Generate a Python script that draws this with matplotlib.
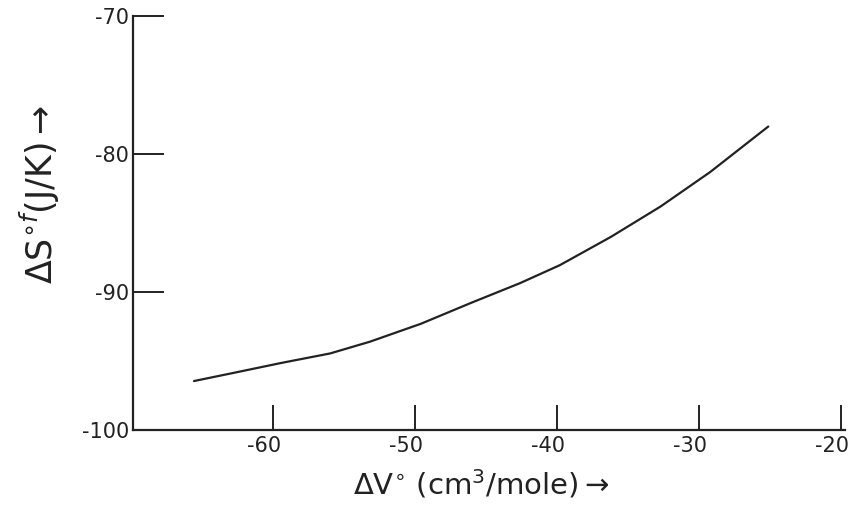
import numpy as np
import matplotlib
matplotlib.use("Agg")
import matplotlib.pyplot as plt
from matplotlib.transforms import ScaledTranslation

# values
dv = [-65.6, -63.0, -59.5, -56.0, -53.2, -49.6, -46.1, -42.6,
      -39.8, -36.2, -32.7, -29.2, -25.1]
ds = [-96.45, -95.9, -95.15, -94.45, -93.6, -92.3, -90.8, -89.35,
      -88.05, -86.0, -83.8, -81.3, -78.0]

xticks = [-60, -50, -40, -30, -20]
yticks = [-100, -90, -80, -70]

ink = "#222222"

fig = plt.figure(figsize=(8.66, 5.05), dpi=100)
ax = fig.add_axes([0.1536, 0.1485, 0.822, 0.8195])

ax.plot(dv, ds, color=ink, lw=1.6, solid_capstyle="round",
        solid_joinstyle="round")

ax.set_xlim(-69.9, -19.7)
ax.set_ylim(-100, -70)
ax.set_xticks(xticks)
ax.set_yticks(yticks)
ax.set_xticklabels([str(t) for t in xticks])
ax.set_yticklabels([str(t) for t in yticks])

for s in ["top", "right"]:
    ax.spines[s].set_visible(False)
for s in ["left", "bottom"]:
    ax.spines[s].set_color(ink)
    ax.spines[s].set_linewidth(1.6)

ax.tick_params(axis="both", direction="in", width=1.4,
               color=ink, labelcolor=ink, labelsize=15)
ax.tick_params(axis="x", length=18, pad=4)
ax.tick_params(axis="y", length=22, pad=3)

# hand-written x labels sit a little left of their ticks
shift = ScaledTranslation(-9 / 100, 0, fig.dpi_scale_trans)
for lab in ax.get_xticklabels():
    lab.set_transform(lab.get_transform() + shift)

ax.set_xlabel(r"ΔV$^{\circ}$ (cm$^{3}$/mole)$\rightarrow$", fontsize=21,
              color=ink)
ax.xaxis.set_label_coords(0.49, -0.09)
ax.set_ylabel(r"ΔS$^{\circ f}$(J/K)$\rightarrow$", fontsize=25,
              color=ink)
ax.yaxis.set_label_coords(-0.1, 0.57)

fig.savefig("out.png", dpi=100, facecolor="white")
